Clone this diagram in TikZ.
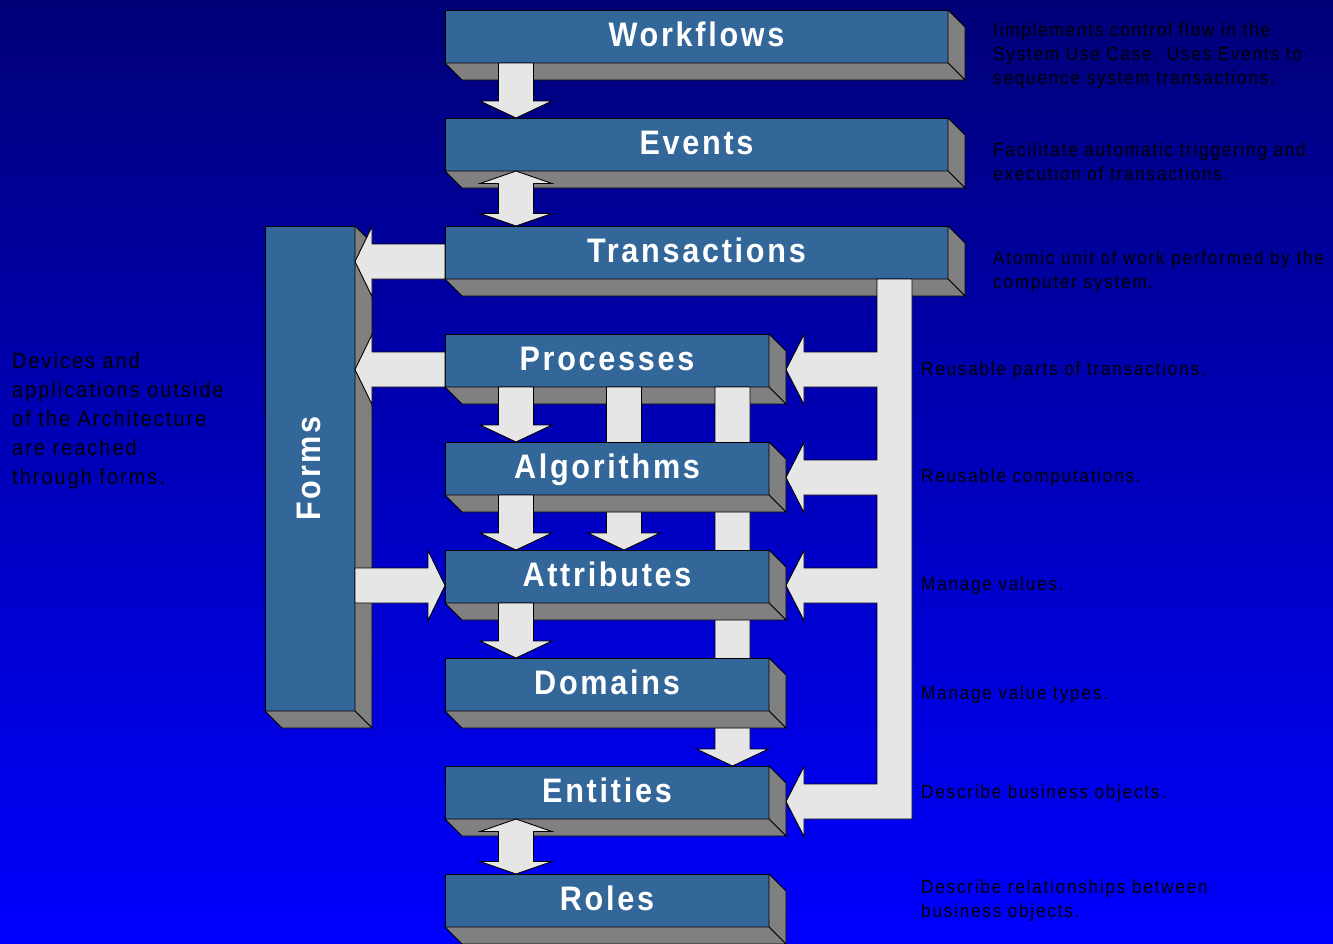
\documentclass[tikz,border=0pt]{standalone}
\usepackage{fontspec}
\setmainfont{Liberation Sans}[FakeStretch=0.9,LetterSpace=8]
\usetikzlibrary{calc}
\definecolor{bgtop}{RGB}{0,0,120}
\definecolor{bgmid}{RGB}{0,0,205}
\definecolor{bgbot}{RGB}{0,0,255}
\definecolor{boxblue}{RGB}{51,102,153}
\definecolor{sidegray}{RGB}{128,128,128}
\definecolor{arrowgray}{RGB}{230,230,230}
\pgfdeclarelayer{bg}
\pgfdeclarelayer{b1}\pgfdeclarelayer{a1}
\pgfdeclarelayer{b2}\pgfdeclarelayer{a2}
\pgfdeclarelayer{b3}\pgfdeclarelayer{a3}
\pgfdeclarelayer{b4}\pgfdeclarelayer{a4}
\pgfdeclarelayer{b5}\pgfdeclarelayer{a5}
\pgfdeclarelayer{b6}\pgfdeclarelayer{a6}
\pgfdeclarelayer{b7}\pgfdeclarelayer{a7}
\pgfdeclarelayer{b8}\pgfdeclarelayer{a8}
\pgfdeclarelayer{b9}
\pgfsetlayers{bg,b1,a1,b2,a2,b3,a3,b4,a4,b5,a5,b6,a6,b7,a7,b8,a8,b9,main}
\tikzset{
  lab/.style={text=white, font=\fontsize{34}{40}\selectfont\bfseries, text height=27pt, text depth=7pt, inner sep=0pt},
  boxfront/.style={lab, draw=black, fill=boxblue, line width=0.9pt, outer sep=0pt, minimum height=53pt},
  wide/.style={boxfront, minimum width=503pt},
  narrow/.style={boxfront, minimum width=324pt},
  formsbox/.style={boxfront, minimum width=90pt, minimum height=485pt},
  side/.style={draw=black, fill=sidegray, line width=0.9pt},
  arr/.style={draw=black, fill=arrowgray, line width=0.9pt},
  desc/.style={text=black, font=\fontsize{19}{24}\selectfont\addfontfeature{LetterSpace=9.5}, inner sep=0pt, anchor=base west, align=left},
  ldesc/.style={text=black, font=\fontsize{22}{29}\selectfont\addfontfeature{LetterSpace=9.5}, inner sep=0pt, anchor=north west, align=left}
}
\newcommand\extrude[1]{%
  \filldraw[side] (#1.north east) -- ($(#1.north east)+(17,17)$) -- ($(#1.south east)+(17,17)$) -- (#1.south east) -- cycle;
  \filldraw[side] (#1.south west) -- (#1.south east) -- ($(#1.south east)+(17,17)$) -- ($(#1.south west)+(17,17)$) -- cycle;}
\newcommand\mkbox[5]{%
  \begin{pgfonlayer}{#1}
    \node[#3] (#2) at (#4) {#5};
    \extrude{#2}
  \end{pgfonlayer}}
\newcommand\dnarr[3]{%
  \filldraw[arr] ($(#1.south west)+(#3-17.5,0)$) -- ($(#2.north west)+(#3-17.5,-17)$) -- ($(#2.north west)+(#3-36,-17)$) -- ($(#2.north west)+(#3,0)$) -- ($(#2.north west)+(#3+36,-17)$) -- ($(#2.north west)+(#3+17.5,-17)$) -- ($(#1.south west)+(#3+17.5,0)$) -- cycle;}
\newcommand\udarr[3]{%
  \filldraw[arr] ($(#1.south west)+(#3,0)$) -- ($(#1.south west)+(#3+36,12.5)$) -- ($(#1.south west)+(#3+17.5,12.5)$) -- ($(#2.north west)+(#3+17.5,-12.5)$) -- ($(#2.north west)+(#3+36,-12.5)$) -- ($(#2.north west)+(#3,0)$) -- ($(#2.north west)+(#3-36,-12.5)$) -- ($(#2.north west)+(#3-17.5,-12.5)$) -- ($(#1.south west)+(#3-17.5,12.5)$) -- ($(#1.south west)+(#3-36,12.5)$) -- cycle;}
\newcommand\ltarr[2]{%
  \filldraw[arr] ($(#1.south west)+(0,-35)$) -- ($(#2.east |- #1.south west)+(17,-35)$) -- ($(#2.east |- #1.south west)+(17,-52.5)$) -- ($(#2.east |- #1.south west)+(0,-17.5)$) -- ($(#2.east |- #1.south west)+(17,17.5)$) -- ($(#2.east |- #1.south west)+(17,0)$) -- (#1.south west) -- cycle;}
\newcommand\rtarr[2]{%
  \filldraw[arr] ($(#1.east |- #2.south west)+(0,-35)$) -- ($(#2.south west)+(-17,-35)$) -- ($(#2.south west)+(-17,-52.5)$) -- ($(#2.south west)+(0,-17.5)$) -- ($(#2.south west)+(-17,17.5)$) -- ($(#2.south west)+(-17,0)$) -- (#1.east |- #2.south west) -- cycle;}
\newcommand\branch[1]{-- (barL |- #1.south east) -- ($(#1.south east)+(35,0)$) -- ($(#1.south east)+(35,17.5)$) -- ($(#1.south east)+(17,-17.5)$) -- ($(#1.south east)+(35,-52.5)$) -- ($(#1.south east)+(35,-35)$) -- ($(barL |- #1.south east)+(0,-35)$)}
\begin{document}
\begin{tikzpicture}[x=1pt,y=-1pt]
\useasboundingbox (0,0) rectangle (1333,943);
\begin{pgfonlayer}{bg}
  \shade[top color=bgtop, middle color=bgmid, bottom color=bgbot] (0,0) rectangle (1333,943);
\end{pgfonlayer}
% boxes
\mkbox{b1}{fm}{formsbox}{310,468.5}{}
\begin{pgfonlayer}{b1}
  \node[lab, rotate=90] (fmtext) at (fm.center) {Forms};
\end{pgfonlayer}
\mkbox{b1}{wf}{wide}{696.5,36.5}{Workflows}
\mkbox{b2}{ev}{wide}{696.5,144.5}{Events}
\mkbox{b3}{tr}{wide}{696.5,252.5}{Transactions}
\mkbox{b4}{pr}{narrow}{607,360.5}{Processes}
\mkbox{b5}{al}{narrow}{607,468.5}{Algorithms}
\mkbox{b6}{atr}{narrow}{607,576.5}{Attributes}
\mkbox{b7}{dm}{narrow}{607,684.5}{Domains}
\mkbox{b8}{en}{narrow}{607,792.5}{Entities}
\mkbox{b9}{ro}{narrow}{607,900.5}{Roles}
% arrows
\begin{pgfonlayer}{a1}\dnarr{wf}{ev}{71}\end{pgfonlayer}
\begin{pgfonlayer}{a2}\udarr{ev}{tr}{71}\end{pgfonlayer}
\begin{pgfonlayer}{a3}
  \ltarr{tr}{fm}
  \coordinate (barL) at ($(tr.south east)+(-71,0)$);
  \coordinate (barR) at ($(tr.south east)+(-36,0)$);
  \filldraw[arr] (barL) -- (barR) -- (barR |- en.south east) \branch{en} \branch{atr} \branch{al} \branch{pr} -- cycle;
\end{pgfonlayer}
\begin{pgfonlayer}{a4}
  \ltarr{pr}{fm}
  \dnarr{pr}{al}{71}
  \dnarr{pr}{atr}{179}
  \dnarr{pr}{en}{287.5}
\end{pgfonlayer}
\begin{pgfonlayer}{a5}
  \dnarr{al}{atr}{71}
  \rtarr{fm}{atr}
\end{pgfonlayer}
\begin{pgfonlayer}{a6}\dnarr{atr}{dm}{71}\end{pgfonlayer}
\begin{pgfonlayer}{a8}\udarr{en}{ro}{71}\end{pgfonlayer}
% descriptions
\node[desc, anchor=north west] (dwf) at (993,22.4) {Iimplements control flow in the\\System Use Case. Uses Events to\\sequence system transactions.};
\node[desc, anchor=north west] (dev) at (993,142.4) {Facilitate automatic triggering and\\execution of transactions.};
\node[desc, anchor=north west] (dtr) at (993,250.4) {Atomic unit of work performed by the\\computer system.};
\node[desc] (dpr) at (921,375) {Reusable parts of transactions.};
\node[desc] (dal) at (921,482.5) {Reusable computations.};
\node[desc] (datr) at (921,590.7) {Manage values.};
\node[desc] (ddm) at (921,699) {Manage value types.};
\node[desc] (den) at (921,798) {Describe business objects.};
\node[desc, anchor=north west] (dro) at (921,880) {Describe relationships between\\business objects.};
\node[ldesc] (dfm) at (12,352) {Devices and\\applications outside\\of the Architecture\\are reached\\through forms.};
\end{tikzpicture}
\end{document}
